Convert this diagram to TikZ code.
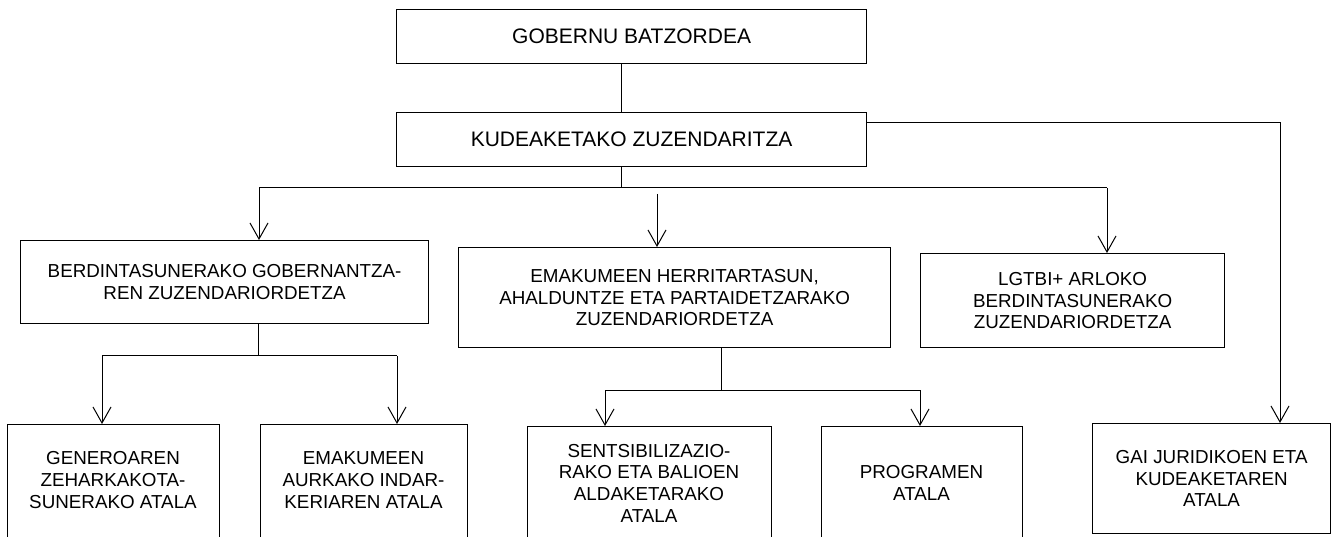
\documentclass[tikz,border=0pt]{standalone}
\usepackage{fontspec}
\setmainfont{Liberation Sans}
\usetikzlibrary{arrows.meta}
\begin{document}
\begin{tikzpicture}[x=1pt,y=-1pt,
  box/.style={draw, line width=1.2pt, rectangle, inner sep=0pt, anchor=north west},
  txt/.style={align=center, font=\fontsize{18.8}{21.7}\selectfont, inner sep=0pt},
  bigtxt/.style={align=center, font=\fontsize{21}{24}\selectfont, inner sep=0pt},
  conn/.style={line width=1pt},
  arr/.style={line width=1pt, -{Straight Barb[length=16pt,width=18pt,line width=1pt]}}]
\useasboundingbox (0,0) rectangle (1339,537);
\clip (0,0) rectangle (1339,537);
% boxes
\node[box, bigtxt, minimum width=470pt, minimum height=54pt] (gob) at (396,9) {GOBERNU BATZORDEA};
\node[box, bigtxt, minimum width=470pt, minimum height=54pt] (kud) at (396,112) {KUDEAKETAKO ZUZENDARITZA};
\node[box, txt, minimum width=408pt, minimum height=83pt] (ber) at (20,240) {BERDINTASUNERAKO GOBERNANTZA-\\REN ZUZENDARIORDETZA};
\node[box, txt, minimum width=432pt, minimum height=100pt] (ema) at (458,247) {EMAKUMEEN HERRITARTASUN,\\AHALDUNTZE ETA PARTAIDETZARAKO\\ZUZENDARIORDETZA};
\node[box, txt, minimum width=304pt, minimum height=94pt] (lgt) at (920,253) {LGTBI+ ARLOKO\\BERDINTASUNERAKO\\ZUZENDARIORDETZA};
\node[box, minimum width=212pt, minimum height=140pt] (gen) at (7,424) {};
\node[txt] (gent) at (113,480) {GENEROAREN\\ZEHARKAKOTA-\\SUNERAKO ATALA};
\node[box, minimum width=207pt, minimum height=140pt] (eak) at (260,424) {};
\node[txt] (eakt) at (363.5,480) {EMAKUMEEN\\AURKAKO INDAR-\\KERIAREN ATALA};
\node[box, minimum width=244pt, minimum height=140pt] (sen) at (527,426) {};
\node[txt] (sent) at (649,483) {SENTSIBILIZAZIO-\\RAKO ETA BALIOEN\\ALDAKETARAKO\\ATALA};
\node[box, minimum width=201pt, minimum height=140pt] (prg) at (821,426) {};
\node[txt] (prgt) at (921.5,483) {PROGRAMEN\\ATALA};
\node[box, txt, minimum width=238pt, minimum height=110pt] (gai) at (1092,423) {GAI JURIDIKOEN ETA\\KUDEAKETAREN\\ATALA};
% junction coordinates
\coordinate (c0) at (621,0);
\coordinate (j1) at (621,188);
\coordinate (hl) at (259,188);
\coordinate (hr) at (1107,188);
\coordinate (ea) at (657,194);
\coordinate (rc) at (1280,123);
\coordinate (j2) at (258,356);
\coordinate (l2) at (102,356);
\coordinate (r2) at (397,356);
\coordinate (j3) at (721,390);
\coordinate (l3) at (605,390);
\coordinate (r3) at (920,390);
% connectors
\draw[conn] (gob.south -| c0) -- (kud.north -| c0);
\draw[conn] (kud.south -| j1) -- (j1);
\draw[conn] (hl) -- (hr);
\draw[arr] (hl) -- (ber.north -| hl);
\draw[arr] (hr) -- (lgt.north -| hr);
\draw[arr] (ea) -- (ema.north -| ea);
\draw[arr] (kud.east |- rc) -- (rc) -- (gai.north -| rc);
\draw[conn] (ber.south -| j2) -- (j2);
\draw[conn] (l2) -- (r2);
\draw[arr] (l2) -- (gen.north -| l2);
\draw[arr] (r2) -- (eak.north -| r2);
\draw[conn] (ema.south -| j3) -- (j3);
\draw[conn] (l3) -- (r3);
\draw[arr] (l3) -- (sen.north -| l3);
\draw[arr] (r3) -- (prg.north -| r3);
\end{tikzpicture}
\end{document}
